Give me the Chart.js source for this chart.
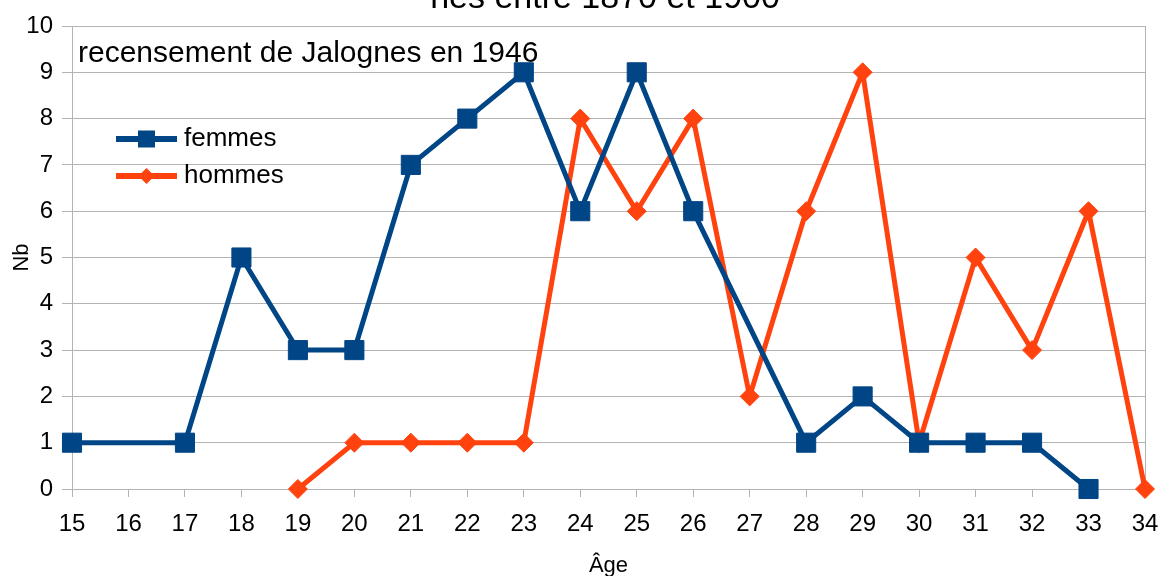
<!DOCTYPE html>
<html>
<head>
<meta charset="utf-8">
<script src="https://cdn.jsdelivr.net/npm/chart.js@4/dist/chart.umd.min.js"></script>
<style>
  html, body { margin: 0; padding: 0; background: #fff; }
  #wrap { width: 1162px; height: 576px; }
</style>
</head>
<body>
<div id="wrap"><canvas id="canvas1" width="1162" height="576"></canvas></div>
<script>
// -- data ------------------------------------------------------------------->
const ages = ['15', '16', '17', '18', '19', '20', '21', '22', '23', '24',
              '25', '26', '27', '28', '29', '30', '31', '32', '33', '34']
// null = pas de valeur pour cet âge (la ligne passe par-dessus)
const femmes = [1, null, 1, 5, 3, 3, 7, 8, 9, 6, 9, 6, null, 1, 2, 1, 1, 1, 0, null]
const hommes = [null, null, null, null, 0, 1, 1, 1, 1, 8, 6, 8, 2, 6, 9, 1, 5, 3, 6, 0]
const yTicks = [0, 1, 2, 3, 4, 5, 6, 7, 8, 9, 10]

const titre = 'nés entre 1870 et 1900'
const sousTitre = 'recensement de Jalognes en 1946'

const bleu = '#004586'
const orange = '#ff420e'
const gris = '#b3b3b3'
const font = 'Liberation Sans, Arial, sans-serif'

// -- plugins ---------------------------------------------------------------->
// title is partly cut off at the top of the picture, so draw it by hand
const textes = {
    id: 'textes',
    afterDraw(chart) {
        const ctx = chart.ctx
        const area = chart.chartArea
        ctx.save()
        ctx.fillStyle = '#000'
        ctx.textBaseline = 'alphabetic'
        ctx.font = '34px ' + font
        ctx.textAlign = 'center'
        ctx.fillText(titre, 605, 8)
        ctx.font = '30px ' + font
        ctx.textAlign = 'left'
        ctx.fillText(sousTitre, area.left + 6, area.top + 36)
        ctx.restore()
    }
}

// legend sits inside the plot area
const legende = {
    id: 'legende',
    afterDatasetsDraw(chart) {
        const ctx = chart.ctx
        const x0 = 116, x1 = 177
        let y = 139
        chart.data.datasets.forEach((ds) => {
            ctx.save()
            ctx.strokeStyle = ds.borderColor
            ctx.lineWidth = 6
            ctx.beginPath()
            ctx.moveTo(x0, y)
            ctx.lineTo(x1, y)
            ctx.stroke()
            ctx.fillStyle = ds.borderColor
            ctx.beginPath()
            const cx = (x0 + x1) / 2
            if (ds.pointStyle === 'rect') {
                ctx.rect(cx - 8.5, y - 8.5, 17, 17)
            } else {
                ctx.moveTo(cx - 8, y)
                ctx.lineTo(cx, y - 8)
                ctx.lineTo(cx + 8, y)
                ctx.lineTo(cx, y + 8)
                ctx.closePath()
            }
            ctx.fill()
            ctx.fillStyle = '#000'
            ctx.font = '26px ' + font
            ctx.textAlign = 'left'
            ctx.textBaseline = 'middle'
            ctx.fillText(ds.label, 184, y)
            ctx.restore()
            y += 37
        })
    }
}

// -- chart ------------------------------------------------------------------>
let ctx1 = document.getElementById('canvas1')

new Chart(ctx1, {
    type: 'line',
    data: {
        labels: ages,
        datasets: [
            {
                label: 'femmes',
                data: femmes,
                borderColor: bleu,
                backgroundColor: bleu,
                borderWidth: 5,
                pointStyle: 'rect',
                pointRadius: 13.5,
                pointBorderWidth: 1,
                spanGaps: true,
                clip: false,
                tension: 0
            },
            {
                label: 'hommes',
                data: hommes,
                borderColor: orange,
                backgroundColor: orange,
                borderWidth: 5,
                pointStyle: 'rectRot',
                pointRadius: 9.5,
                pointBorderWidth: 1,
                spanGaps: true,
                clip: false,
                tension: 0
            }
        ]
    },
    plugins: [textes, legende],
    options: {
        responsive: false,
        animation: false,
        layout: { padding: { top: 26, left: 0, right: 0, bottom: 0 } },
        plugins: {
            legend: { display: false },
            title: { display: false },
            tooltip: { enabled: false }
        },
        scales: {
            x: {
                type: 'category',
                offset: false,
                grid: { drawOnChartArea: false, drawTicks: true, tickLength: 8, color: gris },
                border: { color: gris, width: 1 },
                ticks: { color: '#000', font: { family: font, size: 24 }, padding: 13, maxRotation: 0, autoSkip: false },
                title: { display: true, text: 'Âge', color: '#000', font: { family: font, size: 22, lineHeight: 0.9 }, padding: { top: 0, bottom: 0 } },
                afterFit(scale) {
                    scale.height = 87
                    scale.paddingLeft = 0
                    scale.paddingRight = 0
                }
            },
            y: {
                min: yTicks[0],
                max: yTicks[yTicks.length - 1],
                afterBuildTicks(scale) { scale.ticks = yTicks.map(v => ({ value: v })) },
                grid: { color: gris, tickLength: 10, drawTicks: true },
                border: { color: gris, width: 1 },
                ticks: { color: '#000', font: { family: font, size: 24 }, padding: 9 },
                title: { display: true, text: 'Nb', color: '#000', font: { family: font, size: 22, lineHeight: 1 }, padding: { top: 11, bottom: 0 } },
                afterFit(scale) { scale.width = 72 }
            },
            y2: {
                position: 'right',
                min: 0,
                max: 10,
                grid: { drawOnChartArea: false, drawTicks: false },
                border: { color: gris, width: 1 },
                ticks: { display: false },
                afterFit(scale) { scale.width = 17 }
            }
        }
    }
})
</script>
</body>
</html>
